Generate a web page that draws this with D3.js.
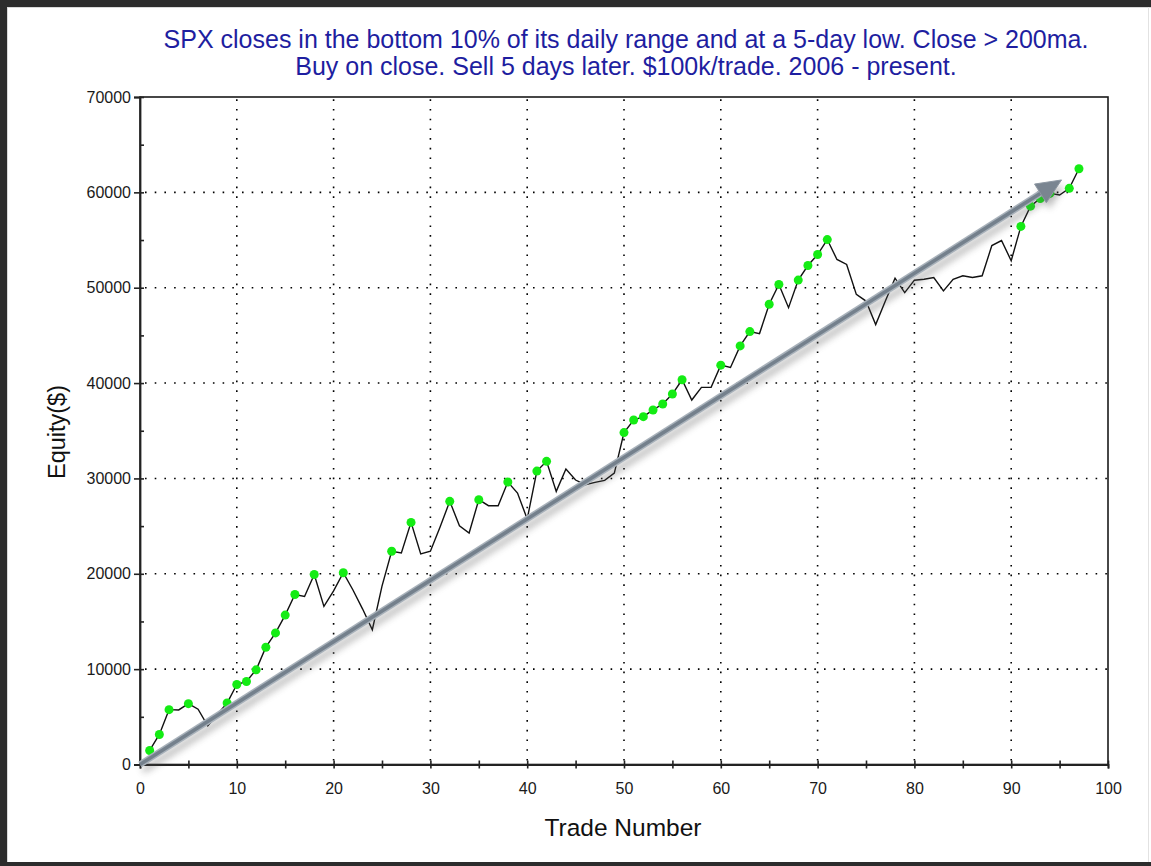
<!DOCTYPE html>
<html>
<head>
<meta charset="utf-8">
<script src="https://cdn.jsdelivr.net/npm/d3@7/dist/d3.min.js"></script>
<style>
  html, body { margin: 0; padding: 0; background: #fff; }
  svg { display: block; }
  text { font-family: "Liberation Sans", Arial, sans-serif; }
</style>
</head>
<body>
<svg id="chart" width="1151" height="866"></svg>
<script>
// ---- data ----
const titleLines = [
  "SPX closes in the bottom 10% of its daily range and at a 5-day low. Close > 200ma.",
  "Buy on close. Sell 5 days later. $100k/trade. 2006 - present."
];
const xLabel = "Trade Number";
const yLabel = "Equity($)";
const tradeNumbers = d3.range(1, 98);
const equity = [
  1470, 3150, 5750, 5720, 6380, 5800, 4050, 5250, 6450, 8390,
  8710, 9930, 12300, 13800, 15670, 17830, 17620, 19930, 16580, 18200,
  20110, 18300, 16300, 14130, 18700, 22360, 22180, 25390, 22080, 22360,
  24900, 27600, 25040, 24280, 27770, 27140, 27140, 29620, 28470, 25740,
  30770, 31790, 28640, 30980, 29830, 29340, 29590, 29800, 30560, 34810,
  36130, 36480, 37180, 37800, 38850, 40350, 38220, 39550, 39550, 41880,
  41640, 43900, 45400, 45190, 48260, 50350, 47910, 50800, 52330, 53480,
  55050, 52960, 52440, 49300, 48600, 46130, 48600, 51000, 49480, 50790,
  50890, 51070, 49660, 50890, 51250, 51070, 51250, 54420, 54950, 52830,
  56430, 58550, 59360, 59890, 59720, 60420, 62470
];
const xTicks = [0, 10, 20, 30, 40, 50, 60, 70, 80, 90, 100];
const xMinorTicks = [5, 15, 25, 35, 45, 55, 65, 75, 85, 95];
const yTicks = [0, 10000, 20000, 30000, 40000, 50000, 60000, 70000];
const yMinorTicks = [5000, 15000, 25000, 35000, 45000, 55000, 65000];
const arrowFrom = [0, 0];
const arrowTo = [95.2, 61300];

// ---- layout ----
const svg = d3.select("#chart");
const W = 1151, H = 866;
const L = 140, R = 1108, T = 97, B = 764.5;
const x = d3.scaleLinear().domain([0, 100]).range([L, R]);
const y = d3.scaleLinear().domain([0, 70000]).range([B, T]);

svg.append("rect").attr("width", W).attr("height", H).attr("fill", "#fff");

// window frame
svg.append("rect").attr("x", 0).attr("y", 0).attr("width", 7).attr("height", H).attr("fill", "#2c2c2c");
svg.append("rect").attr("x", 0).attr("y", 0).attr("width", W).attr("height", 7).attr("fill", "#2c2c2c");
svg.append("rect").attr("x", 0).attr("y", 862).attr("width", W).attr("height", 4).attr("fill", "#2c2c2c");
svg.append("line").attr("x1", 7.5).attr("x2", 7.5).attr("y1", 7).attr("y2", 862).attr("stroke", "#d9d9d9");
svg.append("line").attr("x1", 7).attr("x2", W).attr("y1", 7.5).attr("y2", 7.5).attr("stroke", "#d9d9d9");
svg.append("line").attr("x1", 1148.5).attr("x2", 1148.5).attr("y1", 7).attr("y2", 862).attr("stroke", "#e2e2e2");

// title
const title = svg.append("text")
  .attr("text-anchor", "middle")
  .attr("fill", "#1e1ea0")
  .style("font-size", "25px");
titleLines.forEach((t, i) => {
  title.append("tspan").attr("x", 626).attr("y", 48 + i * 27).text(t);
});

// grid (dotted)
const grid = svg.append("g").attr("stroke", "#000").attr("stroke-width", 1.6)
  .attr("stroke-dasharray", "1.6 8.1");
grid.selectAll("line.v").data(xTicks.filter(d => d > 0 && d < 100)).enter().append("line")
  .attr("x1", d => x(d)).attr("x2", d => x(d)).attr("y1", B - 4).attr("y2", T);
grid.selectAll("line.h").data(yTicks.filter(d => d > 0 && d < 70000)).enter().append("line")
  .attr("y1", d => y(d)).attr("y2", d => y(d)).attr("x1", L + 5).attr("x2", R);

// plot frame
svg.append("rect").attr("x", L).attr("y", T).attr("width", R - L).attr("height", B - T)
  .attr("fill", "none").attr("stroke", "#1a1a1a").attr("stroke-width", 1.6);

// axes
const xAxis = d3.axisBottom(x).tickValues(xTicks).tickSize(4).tickPadding(14).tickFormat(d3.format("d"));
const gx = svg.append("g").attr("transform", `translate(0,${B})`).call(xAxis);
gx.select(".domain").attr("stroke", "#222").attr("stroke-width", 1.8);
gx.selectAll(".tick line").attr("y1", -4).attr("stroke", "#222").attr("stroke-width", 1.6);
gx.selectAll(".tick text").style("font-size", "16px").attr("fill", "#1a1a1a");
const gxm = svg.append("g").attr("transform", `translate(0,${B})`)
  .call(d3.axisBottom(x).tickValues(xMinorTicks).tickSize(4).tickFormat(""));
gxm.select(".domain").remove();
gxm.selectAll(".tick line").attr("y1", -4).attr("stroke", "#222").attr("stroke-width", 1.6);

const yAxis = d3.axisLeft(y).tickValues(yTicks).tickSize(6).tickPadding(3).tickFormat(d3.format("d"));
const gy = svg.append("g").attr("transform", `translate(${L},0)`).call(yAxis);
gy.select(".domain").attr("stroke", "#222").attr("stroke-width", 1.8);
gy.selectAll(".tick line").attr("x2", 4).attr("x1", -6).attr("stroke", "#222").attr("stroke-width", 1.6);
gy.selectAll(".tick text").style("font-size", "16px").attr("fill", "#1a1a1a");
const gym = svg.append("g").attr("transform", `translate(${L},0)`)
  .call(d3.axisLeft(y).tickValues(yMinorTicks).tickSize(4).tickFormat(""));
gym.select(".domain").remove();
gym.selectAll(".tick line").attr("x2", 4).attr("stroke", "#222").attr("stroke-width", 1.6);

// axis titles
svg.append("text").attr("x", 623).attr("y", 836).attr("text-anchor", "middle")
  .style("font-size", "24.5px").attr("fill", "#111").text(xLabel);
svg.append("text").attr("transform", "translate(65,432) rotate(-90)").attr("text-anchor", "middle")
  .style("font-size", "23.5px").attr("fill", "#111").text(yLabel);

// equity line
const pts = tradeNumbers.map((t, i) => ({ t, v: equity[i] }));
svg.append("path").datum(pts)
  .attr("fill", "none").attr("stroke", "#111").attr("stroke-width", 1.4)
  .attr("d", d3.line().x(d => x(d.t)).y(d => y(d.v)));

// new equity highs markers
let runMax = 0;
const highs = pts.filter(d => { if (d.v > runMax) { runMax = d.v; return true; } return false; });
svg.append("g").selectAll("circle").data(highs).enter().append("circle")
  .attr("cx", d => x(d.t)).attr("cy", d => y(d.v)).attr("r", 4.5)
  .attr("fill", "#14ec14");

// trend arrow with shadow
const defs = svg.append("defs");
const f = defs.append("filter").attr("id", "shadow").attr("x", "-10%").attr("y", "-10%")
  .attr("width", "120%").attr("height", "120%");
f.append("feGaussianBlur").attr("stdDeviation", 3.5);

const x0 = x(arrowFrom[0]), y0 = y(arrowFrom[1]);
const x1 = x(arrowTo[0]), y1 = y(arrowTo[1]);
const ang = Math.atan2(y1 - y0, x1 - x0);
const headLen = 25, headHalf = 11;
const bx = x1 - headLen * Math.cos(ang), by = y1 - headLen * Math.sin(ang);
const px = -Math.sin(ang), py = Math.cos(ang);
const head = [[x1, y1], [bx + headHalf * px, by + headHalf * py], [bx - headHalf * px, by - headHalf * py]];

const shadow = svg.append("g").attr("filter", "url(#shadow)").attr("opacity", 0.4)
  .attr("transform", "translate(3,6)");
shadow.append("line").attr("x1", x0).attr("y1", y0).attr("x2", bx).attr("y2", by)
  .attr("stroke", "#555").attr("stroke-width", 6);
shadow.append("polygon").attr("points", head.map(p => p.join(",")).join(" ")).attr("fill", "#555");

svg.append("line").attr("x1", x0).attr("y1", y0).attr("x2", bx + 2 * Math.cos(ang)).attr("y2", by + 2 * Math.sin(ang))
  .attr("stroke", "#a8b1ba").attr("stroke-width", 6.5);
svg.append("line").attr("x1", x0).attr("y1", y0).attr("x2", bx + 2 * Math.cos(ang)).attr("y2", by + 2 * Math.sin(ang))
  .attr("stroke", "#74808c").attr("stroke-width", 3.5);
svg.append("polygon").attr("points", head.map(p => p.join(",")).join(" "))
  .attr("fill", "#7a8591").attr("stroke", "#8d97a2").attr("stroke-width", 1);
</script>
</body>
</html>
